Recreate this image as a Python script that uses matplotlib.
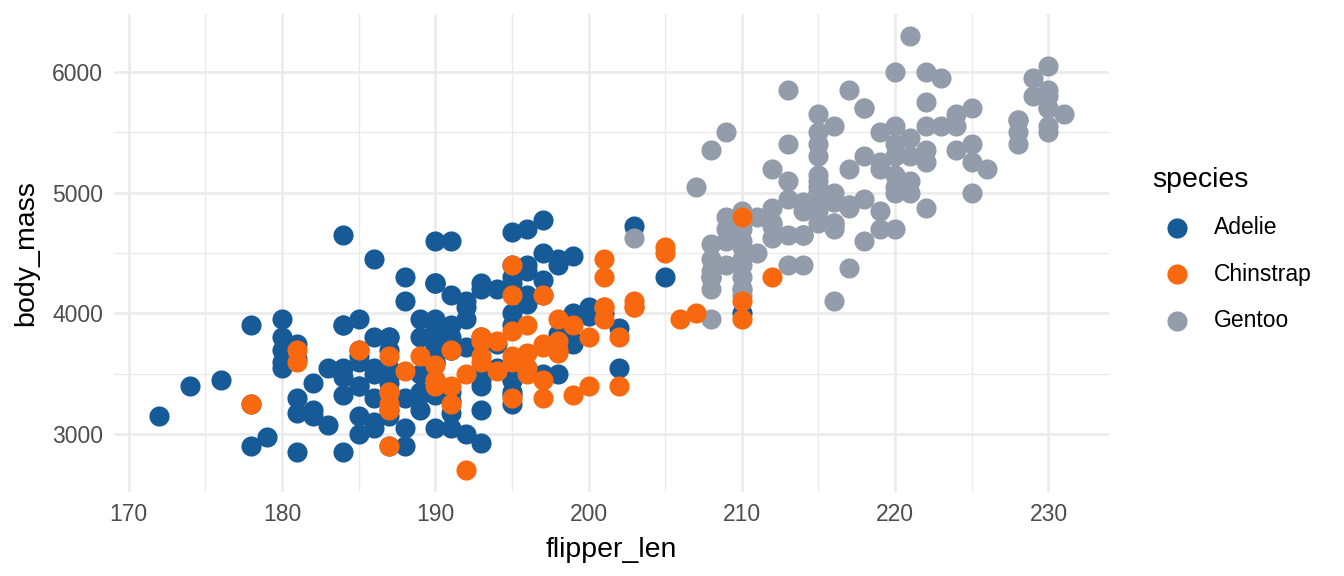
import numpy as np
import matplotlib
matplotlib.use("Agg")
import matplotlib.pyplot as plt
from matplotlib.lines import Line2D
from matplotlib.ticker import MultipleLocator

plt.rcParams['font.family'] = ['Liberation Sans', 'DejaVu Sans']

# flipper length (mm) and body mass (g) per species
adelie_flipper = [181, 186, 195, 193, 190, 181, 195, 193, 190, 186, 180, 182, 191, 198, 185, 195, 197, 184, 194, 174,
                  180, 189, 185, 180, 187, 183, 187, 172, 180, 178, 178, 188, 184, 195, 196, 190, 180, 181, 184, 182,
                  195, 186, 196, 185, 190, 182, 179, 190, 191, 186, 188, 190, 200, 187, 191, 186, 193, 181, 194, 185,
                  195, 185, 192, 184, 192, 195, 188, 190, 198, 190, 190, 196, 197, 190, 195, 191, 184, 187, 195, 189,
                  196, 187, 193, 191, 194, 190, 189, 189, 190, 202, 205, 185, 186, 187, 208, 190, 196, 178, 192, 192,
                  203, 183, 190, 193, 184, 199, 190, 181, 197, 198, 191, 193, 197, 191, 196, 188, 199, 189, 189, 187,
                  198, 176, 202, 186, 199, 191, 195, 191, 210, 190, 197, 193, 199, 187, 190, 191, 200, 185, 193, 193,
                  187, 188, 190, 192, 185, 190, 184, 195, 193, 187, 201]
adelie_mass = [3750, 3800, 3250, 3450, 3650, 3625, 4675, 3475, 4250, 3300, 3700, 3200, 3800, 4400, 3700, 3450, 4500,
               3325, 4200, 3400, 3600, 3800, 3950, 3800, 3800, 3550, 3200, 3150, 3950, 3250, 3900, 3300, 3900, 3325,
               4150, 3950, 3550, 3300, 4650, 3150, 3900, 3100, 4400, 3000, 4600, 3425, 2975, 3450, 4150, 3500, 4300,
               3450, 4050, 2900, 3700, 3550, 3800, 2850, 3750, 3150, 4400, 3600, 4050, 2850, 3950, 3350, 4100, 3050,
               4450, 3600, 3900, 3550, 4150, 3700, 4250, 3700, 3900, 3550, 4000, 3200, 4700, 3800, 4200, 3350, 3550,
               3800, 3500, 3950, 3600, 3550, 4300, 3400, 4450, 3300, 4300, 3700, 4350, 2900, 4100, 3725, 4725, 3075,
               4250, 2925, 3550, 3750, 3900, 3175, 4775, 3825, 4600, 3200, 4275, 3900, 4075, 2900, 3775, 3350, 3325,
               3150, 3500, 3450, 3875, 3050, 4000, 3275, 4300, 3050, 4000, 3325, 3500, 3500, 4475, 3425, 3900, 3175,
               3975, 3400, 4250, 3400, 3475, 3050, 3725, 3000, 3650, 4250, 3475, 3450, 3750, 3700, 4000]

gentoo_flipper = [211, 230, 210, 218, 215, 210, 211, 219, 209, 215, 214, 216, 214, 213, 210, 217, 210, 221, 209, 222,
                  218, 215, 213, 215, 215, 215, 216, 215, 210, 220, 222, 209, 207, 230, 220, 220, 213, 219, 208, 208,
                  208, 225, 210, 216, 222, 217, 210, 225, 213, 215, 210, 220, 210, 225, 217, 220, 208, 220, 208, 224,
                  208, 221, 214, 231, 219, 230, 214, 229, 220, 223, 216, 221, 221, 217, 216, 230, 209, 220, 215, 223,
                  212, 221, 212, 224, 212, 228, 218, 218, 212, 230, 218, 228, 212, 224, 214, 226, 216, 222, 203, 225,
                  219, 228, 215, 228, 216, 215, 210, 219, 208, 209, 216, 229, 213, 230, 217, 230, 217, 222, 214, 215,
                  222, 212, 213]
gentoo_mass = [4500, 5700, 4450, 5700, 5400, 4550, 4800, 5200, 4400, 5150, 4650, 5550, 4650, 5850, 4200, 5850, 4150,
               6300, 4800, 5350, 5700, 5000, 4400, 5050, 5000, 5100, 4100, 5650, 4600, 5550, 5250, 4700, 5050, 6050,
               5150, 5400, 4950, 5250, 4350, 5350, 3950, 5700, 4300, 4750, 5550, 4900, 4200, 5400, 5100, 5300, 4850,
               5300, 4400, 5000, 4900, 5050, 4300, 5000, 4450, 5550, 4200, 5300, 4400, 5650, 4700, 5700, 4650, 5800,
               4700, 5550, 4750, 5000, 5100, 5200, 4700, 5800, 4600, 6000, 4750, 5950, 4625, 5450, 4725, 5350, 4750,
               5600, 4600, 5300, 4875, 5550, 4950, 5400, 4750, 5650, 4850, 5200, 4925, 4875, 4625, 5250, 4850, 5600,
               4975, 5500, 4725, 5500, 4700, 5500, 4575, 5500, 5000, 5950, 4650, 5500, 4375, 5850, 4875, 6000, 4925,
               4850, 5750, 5200, 5400]

chinstrap_flipper = [192, 196, 193, 188, 197, 198, 178, 197, 195, 198, 193, 194, 185, 201, 190, 201, 197, 181, 190,
                     195, 181, 191, 187, 193, 195, 197, 200, 200, 191, 205, 187, 201, 187, 203, 195, 199, 195, 210,
                     192, 205, 210, 187, 196, 196, 196, 201, 190, 212, 187, 198, 199, 201, 193, 203, 187, 197, 191,
                     203, 202, 194, 206, 189, 195, 207, 202, 193, 210, 198]
chinstrap_mass = [3500, 3900, 3650, 3525, 3725, 3950, 3250, 3750, 4150, 3700, 3800, 3775, 3700, 4050, 3575, 4050,
                  3300, 3700, 3450, 4400, 3600, 3400, 2900, 3800, 3300, 4150, 3400, 3800, 3700, 4550, 3200, 4300,
                  3350, 4100, 3600, 3900, 3850, 4800, 2700, 4500, 3950, 3650, 3550, 3500, 3675, 4450, 3400, 4300,
                  3250, 3675, 3325, 3950, 3600, 4050, 3350, 3450, 3250, 4050, 3800, 3525, 3950, 3650, 3650, 4000,
                  3400, 3775, 4100, 3775]

species = ['Adelie', 'Chinstrap', 'Gentoo']
colors = {'Adelie': '#165A98', 'Chinstrap': '#F8690F', 'Gentoo': '#939CAB'}


def main():
    fig = plt.figure(figsize=(13.44, 5.76), dpi=100)
    ax = fig.add_axes([114 / 1344, 1 - 492 / 576, (1109 - 114) / 1344, (492 - 14) / 576])

    # drawn in the dataset's row order: Adelie, Gentoo, Chinstrap
    groups = [('Adelie', adelie_flipper, adelie_mass),
              ('Gentoo', gentoo_flipper, gentoo_mass),
              ('Chinstrap', chinstrap_flipper, chinstrap_mass)]
    for name, x, y in groups:
        ax.scatter(x, y, s=210, color=colors[name], linewidths=0, zorder=3)

    # ggplot-like expansion of 5%
    allx = np.concatenate([g[1] for g in groups])
    ally = np.concatenate([g[2] for g in groups])
    dx = (allx.max() - allx.min()) * 0.05
    dy = (ally.max() - ally.min()) * 0.05
    ax.set_xlim(allx.min() - dx, allx.max() + dx)
    ax.set_ylim(ally.min() - dy, ally.max() + dy)

    ax.xaxis.set_major_locator(MultipleLocator(10))
    ax.xaxis.set_minor_locator(MultipleLocator(5))
    ax.yaxis.set_major_locator(MultipleLocator(1000))
    ax.yaxis.set_minor_locator(MultipleLocator(500))
    ax.grid(which='major', color='#EBEBEB', linewidth=1.9, zorder=0)
    ax.grid(which='minor', color='#EBEBEB', linewidth=1.0, zorder=0)
    ax.set_axisbelow(True)
    for s in ax.spines.values():
        s.set_visible(False)
    ax.tick_params(which='both', length=0, labelsize=16.5, labelcolor='#4D4D4D', pad=8)

    ax.set_xlabel('flipper_len', fontsize=20.5, labelpad=8)
    ax.set_ylabel('body_mass', fontsize=20.5, labelpad=9)

    # legend built by hand to match the ggplot spacing
    fig.text(1152 / 1344, 1 - 180 / 576, 'species', fontsize=20.5, va='center', ha='left')
    for i, name in enumerate(species):
        yy = 1 - (228 + i * 46.3) / 576
        fig.add_artist(Line2D([1177 / 1344], [yy], marker='o', markersize=14.5, linestyle='none',
                              color=colors[name], markeredgewidth=0, transform=fig.transFigure))
        fig.text(1214 / 1344, yy, name, fontsize=16.5, va='center', ha='left')

    fig.savefig('out.png', dpi=100)


if __name__ == "__main__":
    main()
